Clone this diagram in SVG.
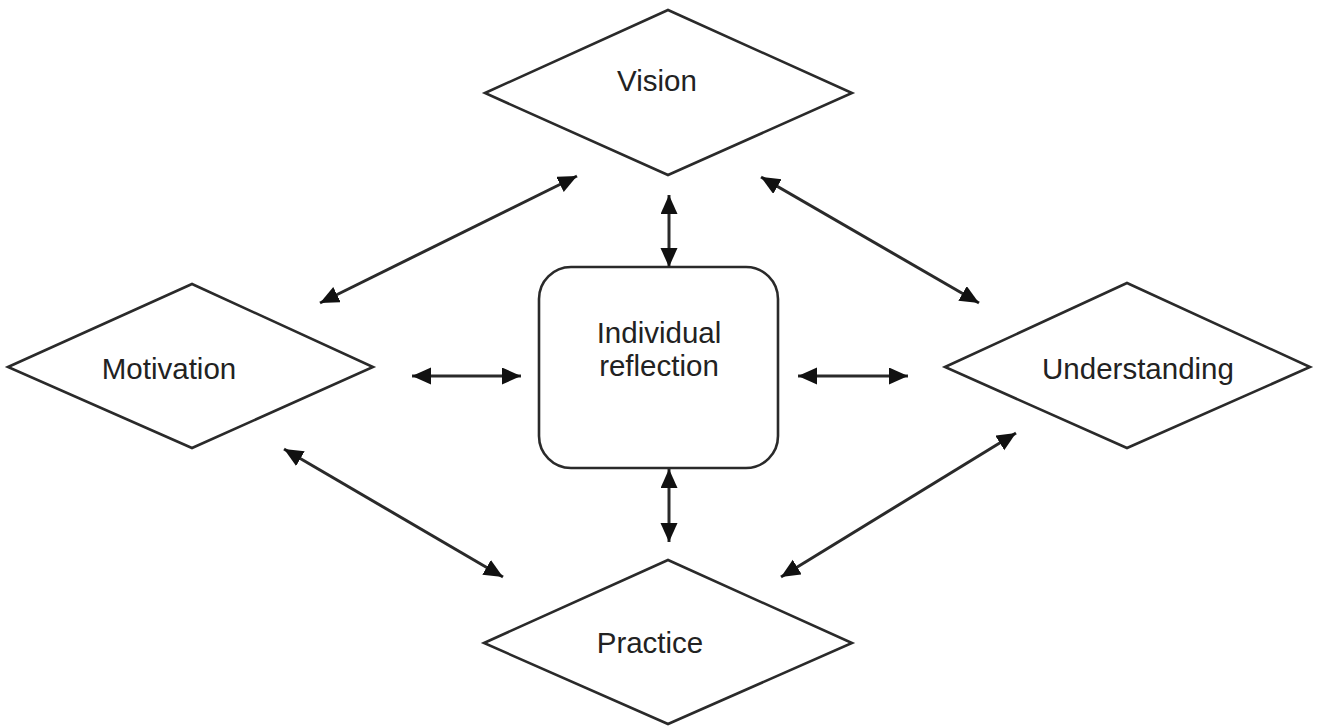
<svg xmlns="http://www.w3.org/2000/svg" width="1317" height="726" viewBox="0 0 1317 726">
<style>
.shape{fill:#fff;stroke:#2a2a2a;stroke-width:2.6;}
.lbl{font-family:"Liberation Sans",Arial,sans-serif;font-size:29.5px;fill:#222;text-anchor:middle;}
.conn{stroke:#2a2a2a;stroke-width:3;fill:none;marker-start:url(#ah);marker-end:url(#ah);}
</style>
<defs>
<marker id="ah" markerUnits="userSpaceOnUse" markerWidth="22" markerHeight="18" refX="19" refY="8.5" orient="auto-start-reverse">
<path d="M0,0 L19,8.5 L0,17 z" fill="#111"/>
</marker>
</defs>
<rect width="1317" height="726" fill="#fff"/>
<g id="vision">
<polygon class="shape" points="485,93 668,10 852,93 668,175"/>
<text class="lbl" x="657" y="91">Vision</text>
</g>
<g id="motivation">
<polygon class="shape" points="8,367 192,284 373,367 192,448"/>
<text class="lbl" x="169" y="379">Motivation</text>
</g>
<g id="understanding">
<polygon class="shape" points="945,367 1127,283 1310,367 1127,448"/>
<text class="lbl" x="1138" y="379">Understanding</text>
</g>
<g id="practice">
<polygon class="shape" points="484,643 668,560 852,643 668,724"/>
<text class="lbl" x="650" y="653">Practice</text>
</g>
<g id="reflection">
<rect class="shape" x="539" y="267" width="239" height="201" rx="32" ry="32"/>
<text class="lbl" x="659" y="343">Individual</text>
<text class="lbl" x="659" y="376">reflection</text>
</g>
<g id="connectors">
<line class="conn" x1="320" y1="303" x2="577" y2="176"/>
<line class="conn" x1="669" y1="195" x2="669" y2="267"/>
<line class="conn" x1="761" y1="177" x2="979" y2="303"/>
<line class="conn" x1="412" y1="376" x2="521" y2="376"/>
<line class="conn" x1="798" y1="376" x2="908" y2="376"/>
<line class="conn" x1="284" y1="449" x2="503" y2="577"/>
<line class="conn" x1="669" y1="469" x2="669" y2="542"/>
<line class="conn" x1="1016" y1="433" x2="781" y2="577"/>
</g>
</svg>
